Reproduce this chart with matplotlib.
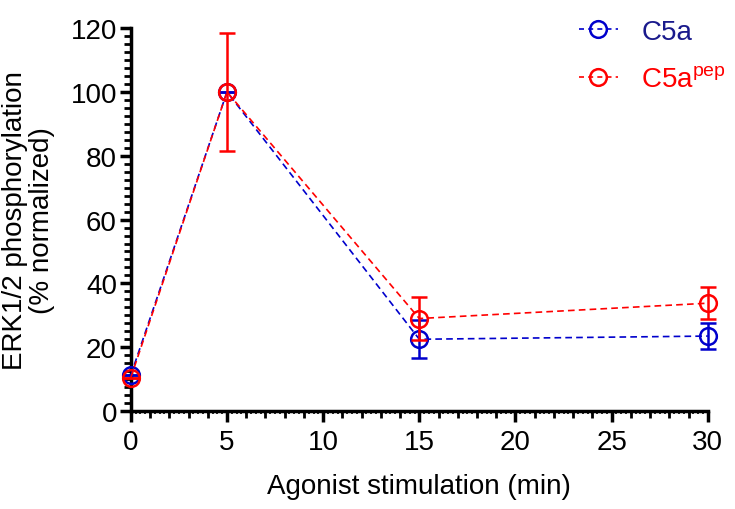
import numpy as np
import matplotlib
matplotlib.use("Agg")
import matplotlib.pyplot as plt
from matplotlib.ticker import MultipleLocator, NullFormatter
from matplotlib.lines import Line2D

plt.rcParams['font.family'] = ['Liberation Sans', 'DejaVu Sans']
plt.rcParams['mathtext.fontset'] = 'custom'
plt.rcParams['mathtext.rm'] = 'Liberation Sans'

time = [0, 5, 15, 30]
c5a = [11.3, 100, 22.5, 23.5]
c5a_err = [0, 0, 6.0, 4.0]
c5a_pep = [10.5, 100, 29.0, 33.8]
c5a_pep_err = [0, 18.5, 6.8, 5.0]

blue = '#0000cc'
red = '#ff0000'

fig = plt.figure(figsize=(7.35, 5.1), dpi=100)
ax = fig.add_axes([0.178, 0.192, 0.785, 0.751])

ax.errorbar(time, c5a, yerr=c5a_err, fmt='o--', color=blue, mfc='none',
            markersize=12, mew=1.8, lw=1.2, capsize=6, capthick=1.8, elinewidth=1.8,
            dashes=(4, 2.5), clip_on=False, zorder=3)
ax.errorbar(time, c5a_pep, yerr=c5a_pep_err, fmt='o--', color=red, mfc='none',
            markersize=12, mew=1.8, lw=1.2, capsize=6, capthick=1.8, elinewidth=1.8,
            dashes=(4, 2.5), clip_on=False, zorder=4)

ax.set_xlim(0, 30)
ax.set_ylim(0, 120)
ax.xaxis.set_major_locator(MultipleLocator(5))
ax.xaxis.set_minor_locator(MultipleLocator(1))
ax.yaxis.set_major_locator(MultipleLocator(20))
ax.yaxis.set_minor_locator(MultipleLocator(2.5))

for s in ['top', 'right']:
    ax.spines[s].set_visible(False)
for s in ['left', 'bottom']:
    ax.spines[s].set_linewidth(2.5)
ax.tick_params(which='major', direction='out', length=8, width=2.5, labelsize=20, pad=2)
ax.tick_params(axis='x', which='major', pad=5)
ax.tick_params(which='minor', direction='out', length=5, width=2)

# extra fine ticks along the x axis
sec = ax.secondary_xaxis('bottom')
sec.set_xticks(np.arange(0, 30.01, 0.25))
sec.xaxis.set_major_formatter(NullFormatter())
sec.spines['bottom'].set_visible(False)
sec.tick_params(direction='out', length=2.5, width=1.2)

ax.set_xlabel('Agonist stimulation (min)', fontsize=20, labelpad=13)
ax.set_ylabel('ERK1/2 phosphorylation\n(% normalized)', fontsize=20, labelpad=11, linespacing=1.05)

h1 = Line2D([], [], color=blue, ls='--', dashes=(3, 2.5), marker='o', mfc='none', markersize=12, mew=1.8, lw=1.2)
h2 = Line2D([], [], color=red, ls='--', dashes=(3, 2.5), marker='o', mfc='none', markersize=12, mew=1.8, lw=1.2)
leg = ax.legend([h1, h2], ['C5a', r'C5a$^{\mathrm{pep}}$'], loc='upper right',
                bbox_to_anchor=(1.075, 1.09), frameon=False, fontsize=20,
                handlelength=1.4, labelspacing=0.8, handletextpad=0.85)
leg.get_texts()[0].set_color('#1a1a8c')
leg.get_texts()[1].set_color(red)

fig.savefig('out.png', dpi=100)
